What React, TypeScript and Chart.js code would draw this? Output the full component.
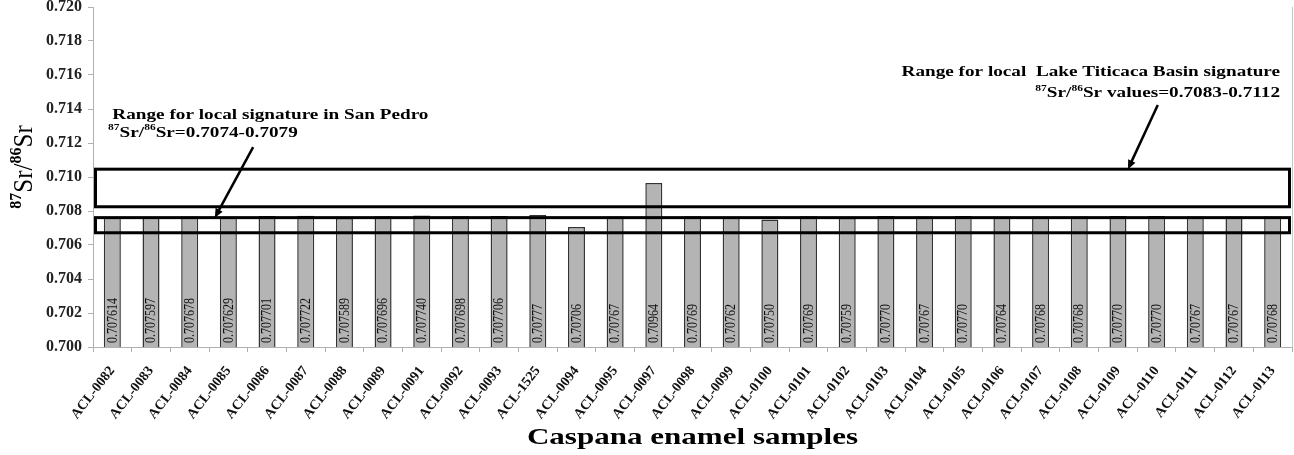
import React, { useEffect, useRef } from 'react';
import { Chart, registerables } from 'chart.js';

Chart.register(...registerables);

const FONT = '"Liberation Serif", "Times New Roman", serif';

const categories = [
  'ACL-0082', 'ACL-0083', 'ACL-0084', 'ACL-0085', 'ACL-0086', 'ACL-0087', 'ACL-0088', 'ACL-0089',
  'ACL-0091', 'ACL-0092', 'ACL-0093', 'ACL-1525', 'ACL-0094', 'ACL-0095', 'ACL-0097', 'ACL-0098',
  'ACL-0099', 'ACL-0100', 'ACL-0101', 'ACL-0102', 'ACL-0103', 'ACL-0104', 'ACL-0105', 'ACL-0106',
  'ACL-0107', 'ACL-0108', 'ACL-0109', 'ACL-0110', 'ACL-0111', 'ACL-0112', 'ACL-0113',
];

const srValues = [
  0.707614, 0.707597, 0.707678, 0.707629, 0.707701, 0.707722, 0.707589, 0.707696,
  0.70774, 0.707698, 0.707706, 0.70777, 0.70706, 0.70767, 0.70964, 0.70769,
  0.70762, 0.7075, 0.70769, 0.70759, 0.7077, 0.70767, 0.7077, 0.70764,
  0.70768, 0.70768, 0.7077, 0.7077, 0.70767, 0.70767, 0.70768,
];

const valueLabels = [
  '0.707614', '0.707597', '0.707678', '0.707629', '0.707701', '0.707722', '0.707589', '0.707696',
  '0.707740', '0.707698', '0.707706', '0.70777', '0.70706', '0.70767', '0.70964', '0.70769',
  '0.70762', '0.70750', '0.70769', '0.70759', '0.70770', '0.70767', '0.70770', '0.70764',
  '0.70768', '0.70768', '0.70770', '0.70770', '0.70767', '0.70767', '0.70768',
];

const yTickMin = 0.7;
const yTickMax = 0.72;
const yTickStep = 0.002;

// drawn ranges [low, high]
const sanPedroBox = [0.70672, 0.70761];
const titicacaBox = [0.70825, 0.71046];

type Run = { t: string; sup?: boolean };

function drawRich(
  ctx: CanvasRenderingContext2D,
  runs: Run[],
  x: number,
  y: number,
  align: 'left' | 'right' | 'center',
  size: number,
  weight: string,
  sx: number,
  rotate = 0,
) {
  ctx.save();
  ctx.translate(x, y);
  if (rotate) ctx.rotate(rotate);
  if (rotate) ctx.scale(1, sx);
  else ctx.scale(sx, 1);
  ctx.textBaseline = 'middle';
  ctx.textAlign = 'left';
  const supSize = Math.round(size * 0.62);
  const fontFor = (r: Run) => (r.sup ? `bold ${supSize}px ${FONT}` : `${weight} ${size}px ${FONT}`);
  let total = 0;
  const widths = runs.map((r) => {
    ctx.font = fontFor(r);
    const w = ctx.measureText(r.t).width;
    total += w;
    return w;
  });
  let cx = align === 'right' ? -total : align === 'center' ? -total / 2 : 0;
  runs.forEach((r, i) => {
    ctx.font = fontFor(r);
    ctx.fillText(r.t, cx, r.sup ? -size * 0.32 : 0);
    cx += widths[i];
  });
  ctx.restore();
}

function drawArrow(ctx: CanvasRenderingContext2D, x1: number, y1: number, x2: number, y2: number) {
  const ang = Math.atan2(y2 - y1, x2 - x1);
  const head = 9;
  const hw = 4;
  ctx.save();
  ctx.strokeStyle = '#000';
  ctx.fillStyle = '#000';
  ctx.lineWidth = 2.5;
  ctx.beginPath();
  ctx.moveTo(x1, y1);
  ctx.lineTo(x2 - Math.cos(ang) * head * 0.8, y2 - Math.sin(ang) * head * 0.8);
  ctx.stroke();
  ctx.beginPath();
  ctx.moveTo(x2, y2);
  ctx.lineTo(x2 - Math.cos(ang) * head - Math.sin(ang) * hw, y2 - Math.sin(ang) * head + Math.cos(ang) * hw);
  ctx.lineTo(x2 - Math.cos(ang) * head + Math.sin(ang) * hw, y2 - Math.sin(ang) * head - Math.cos(ang) * hw);
  ctx.closePath();
  ctx.fill();
  ctx.restore();
}

const overlayPlugin = {
  id: 'overlay',
  afterDatasetsDraw(chart: any) {
    const { ctx, chartArea: ca, scales } = chart;
    const x = scales.x;
    const y = scales.y;
    const SX = 1.28;

    // light right border of the plot area
    ctx.save();
    ctx.strokeStyle = '#c8c8c8';
    ctx.lineWidth = 1;
    ctx.beginPath();
    ctx.moveTo(ca.right + 0.5, ca.top);
    ctx.lineTo(ca.right + 0.5, ca.bottom);
    ctx.stroke();
    ctx.restore();

    // value labels inside bars
    const meta = chart.getDatasetMeta(0);
    ctx.save();
    ctx.fillStyle = '#111';
    ctx.font = `12px ${FONT}`;
    ctx.textBaseline = 'middle';
    ctx.textAlign = 'left';
    meta.data.forEach((bar: any, i: number) => {
      ctx.save();
      ctx.translate(bar.x, ca.bottom - 4);
      ctx.rotate(-Math.PI / 2);
      ctx.scale(1, 1.15);
      ctx.fillText(valueLabels[i], 0, 0.5);
      ctx.restore();
    });
    ctx.restore();

    // range boxes
    ctx.save();
    ctx.strokeStyle = '#000';
    ctx.lineWidth = 3;
    for (const [lo, hi] of [sanPedroBox, titicacaBox]) {
      const top = y.getPixelForValue(hi);
      const bot = y.getPixelForValue(lo);
      ctx.strokeRect(ca.left + 2.5, top, ca.right - ca.left - 5, bot - top);
    }
    ctx.restore();

    ctx.fillStyle = '#000';
    // San Pedro annotation
    drawRich(ctx, [{ t: 'Range for local signature in San Pedro' }], x.getPixelForValue(0), y.getPixelForValue(0.71365), 'left', 15, 'bold', SX);
    drawRich(
      ctx,
      [{ t: '87', sup: true }, { t: 'Sr/' }, { t: '86', sup: true }, { t: 'Sr=0.7074-0.7079' }],
      x.getPixelForValue(-0.11),
      y.getPixelForValue(0.71259),
      'left',
      15,
      'bold',
      SX,
    );
    drawArrow(ctx, x.getPixelForValue(3.64), y.getPixelForValue(0.71176), x.getPixelForValue(2.65), y.getPixelForValue(sanPedroBox[1]));

    // Lake Titicaca annotation
    drawRich(ctx, [{ t: 'Range for local  Lake Titicaca Basin signature' }], x.getPixelForValue(30.19), y.getPixelForValue(0.71618), 'right', 15, 'bold', SX);
    drawRich(
      ctx,
      [{ t: '87', sup: true }, { t: 'Sr/' }, { t: '86', sup: true }, { t: 'Sr values=0.7083-0.7112' }],
      x.getPixelForValue(30.19),
      y.getPixelForValue(0.71494),
      'right',
      15,
      'bold',
      SX,
    );
    drawArrow(ctx, x.getPixelForValue(27.03), y.getPixelForValue(0.71424), x.getPixelForValue(26.26), y.getPixelForValue(titicacaBox[1]));

    // Y axis title
    drawRich(
      ctx,
      [{ t: '87', sup: true }, { t: 'Sr/' }, { t: '86', sup: true }, { t: 'Sr' }],
      25,
      (ca.top + ca.bottom) / 2 - 10,
      'center',
      25,
      'normal',
      1.1,
      -Math.PI / 2,
    );

    // X axis title
    drawRich(ctx, [{ t: 'Caspana enamel samples' }], (ca.left + ca.right) / 2, 438, 'center', 23, 'bold', 1.35);
  },
};

export default function App() {
  const ref = useRef<HTMLCanvasElement | null>(null);

  useEffect(() => {
    if (!ref.current) return;
    const chart = new Chart(ref.current, {
      type: 'bar',
      data: {
        labels: categories,
        datasets: [
          {
            data: srValues,
            backgroundColor: '#b4b4b4',
            borderColor: '#333333',
            borderWidth: 1.5,
            borderSkipped: false,
            barPercentage: 0.44,
            categoryPercentage: 1,
          },
        ],
      },
      options: {
        animation: false,
        responsive: false,
        maintainAspectRatio: false,
        devicePixelRatio: 1,
        layout: { padding: { top: 7, right: 2, left: 0, bottom: 0 } },
        plugins: { legend: { display: false }, tooltip: { enabled: false }, title: { display: false } },
        scales: {
          x: {
            offset: true,
            grid: { display: true, offset: true, drawOnChartArea: false, drawTicks: true, tickLength: 5, color: '#b0b0b0' },
            border: { display: true, color: '#b0b0b0' },
            ticks: {
              autoSkip: false,
              minRotation: 52,
              maxRotation: 52,
              padding: 11,
              color: '#111',
              font: { family: FONT, size: 14, weight: 'bold' },
            },
            afterFit: (s: any) => {
              s.height = 108;
              s.paddingLeft = 0;
              s.paddingRight = 0;
            },
          },
          y: {
            min: yTickMin,
            max: yTickMax,
            ticks: {
              stepSize: yTickStep,
              padding: 6,
              color: '#222',
              font: { family: FONT, size: 16, weight: 'bold' },
              callback: (v: any) => Number(v).toFixed(3),
            },
            grid: { display: true, drawOnChartArea: false, drawTicks: true, tickLength: 5, color: '#b0b0b0' },
            border: { display: true, color: '#b0b0b0' },
            afterFit: (s: any) => {
              s.width = 93;
              s.paddingTop = 0;
              s.paddingBottom = 0;
            },
          },
        },
      },
      plugins: [overlayPlugin],
    } as any);
    return () => chart.destroy();
  }, []);

  return (
    <div style={{ position: 'absolute', left: 0, top: 0, width: 1294, height: 455, background: '#fff' }}>
      <canvas ref={ref} width={1294} height={455} style={{ width: 1294, height: 455, display: 'block' }} />
    </div>
  );
}
